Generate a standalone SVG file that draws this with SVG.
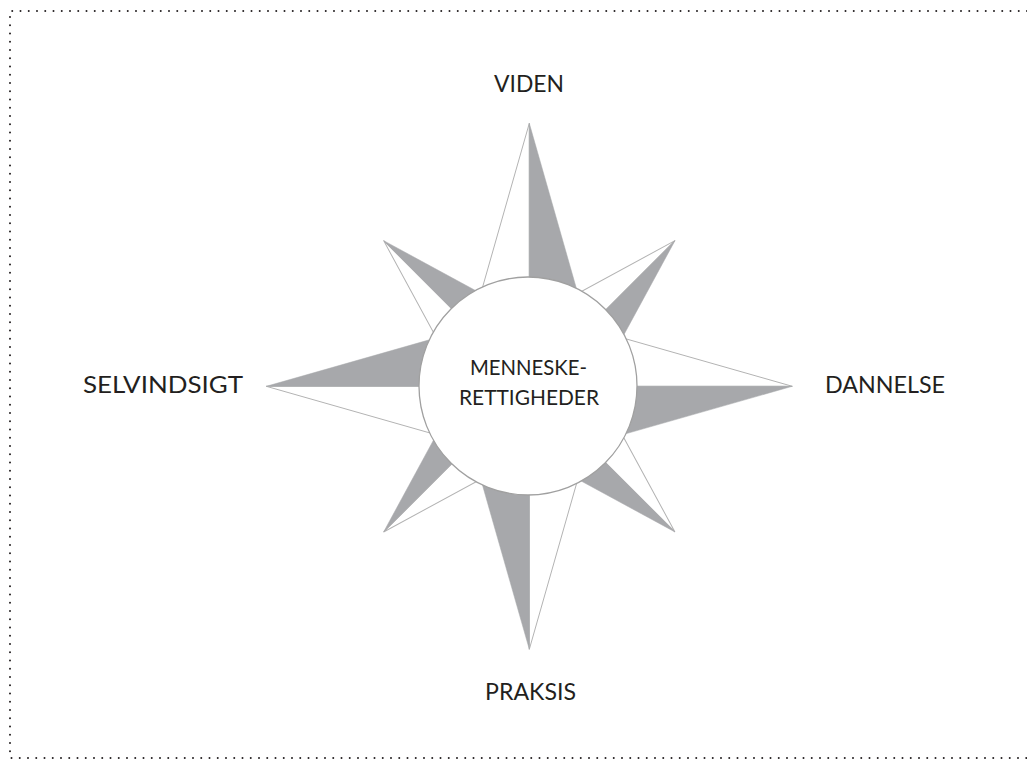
<svg xmlns="http://www.w3.org/2000/svg" width="1027" height="759" viewBox="0 0 1027 759">
<style>
.lbl{font-family:Lato,"Noto Sans","Liberation Sans",sans-serif;font-size:22.5px;fill:#231f20;text-anchor:middle}
.ctr{font-size:21px}
.gray{fill:#a7a8ab;stroke:#a7a8ab;stroke-width:0.5}
.white{fill:#ffffff;stroke:#b3b3b3;stroke-width:1}
.border{fill:none;stroke:#231f20;stroke-width:2;stroke-linecap:round;stroke-dasharray:0 8.25}
</style>
<defs>
<g id="longpt">
<polygon class="white" points="0,-263 -75,0 0,0"/>
<polygon class="gray" points="0,-263 75,0 0,0"/>
</g>
<g id="shortpt">
<polygon class="white" points="0,-206 -61,0 0,0"/>
<polygon class="gray" points="0,-206 61,0 0,0"/>
</g>
</defs>
<rect width="1027" height="759" fill="#ffffff"/>
<g id="frame">
<path class="border" d="M1027,11 H10 V758 H1027"/>
</g>
<g id="star" transform="translate(529.3,386.3)">
<use href="#shortpt" transform="rotate(-45)"/>
<use href="#shortpt" transform="rotate(45)"/>
<use href="#shortpt" transform="rotate(135)"/>
<use href="#shortpt" transform="rotate(225)"/>
<use href="#longpt"/>
<use href="#longpt" transform="rotate(90)"/>
<use href="#longpt" transform="rotate(180)"/>
<use href="#longpt" transform="rotate(270)"/>
</g>
<g id="center">
<circle cx="528" cy="386" r="109" fill="#ffffff" stroke="#a0a0a0" stroke-width="1.3"/>
<text class="lbl ctr" x="528.5" y="375" textLength="117" lengthAdjust="spacingAndGlyphs">MENNESKE-</text>
<text class="lbl ctr" x="529" y="405" textLength="140" lengthAdjust="spacingAndGlyphs">RETTIGHEDER</text>
</g>
<g id="viden"><text class="lbl" x="529" y="92" textLength="70" lengthAdjust="spacingAndGlyphs">VIDEN</text></g>
<g id="dannelse"><text class="lbl" x="885" y="393" textLength="120" lengthAdjust="spacingAndGlyphs">DANNELSE</text></g>
<g id="praksis"><text class="lbl" x="530.5" y="700" textLength="91" lengthAdjust="spacingAndGlyphs">PRAKSIS</text></g>
<g id="selvindsigt"><text class="lbl" x="163" y="393" textLength="160" lengthAdjust="spacingAndGlyphs">SELVINDSIGT</text></g>
</svg>
